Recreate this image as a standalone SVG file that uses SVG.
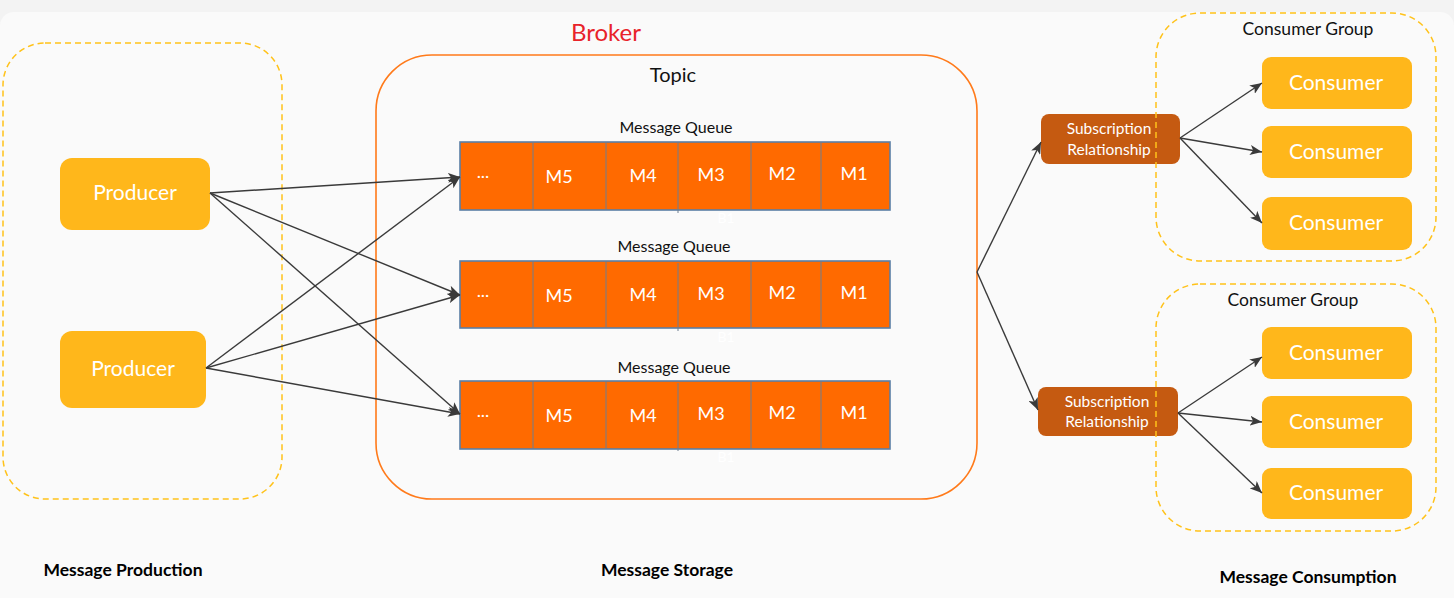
<svg xmlns="http://www.w3.org/2000/svg" width="1454" height="598" viewBox="0 0 1454 598">
<defs>
<marker id="arr" viewBox="0 0 12 10" refX="12" refY="5" markerWidth="12" markerHeight="10" markerUnits="userSpaceOnUse" orient="auto">
<path d="M0,0 L12,5 L0,10 L3,5 Z" fill="#3a3a3a"/>
</marker>
<style>
text{font-family:Lato,"Open Sans","Liberation Sans",sans-serif;}
.grp{fill:none;stroke:#ffc21a;stroke-width:1.5;stroke-dasharray:6 4;}
.yel{fill:#ffb71b;}
.wt{fill:#ffffff;text-anchor:middle;}
.big{font-size:21px;}
.q{fill:#ff6a00;stroke:#5b7fa6;stroke-width:1.6;}
.div{stroke:#6f7f90;stroke-width:1;}
.m{fill:#ffffff;font-size:18px;text-anchor:middle;}
.lbl{fill:#111;text-anchor:middle;font-size:16px;}
.sub{fill:#c55a11;}
.st{fill:#ffffff;font-size:15.5px;text-anchor:middle;}
.bot{fill:#000;font-size:17.5px;font-weight:bold;text-anchor:middle;}
.cg{fill:#111;font-size:17.5px;text-anchor:middle;}
.cn line{stroke:#3a3a3a;stroke-width:1.4;marker-end:url(#arr);}
</style>
</defs>
<rect x="0" y="0" width="1454" height="598" fill="#f3f3f3"/>
<rect x="0" y="12" width="1454" height="600" rx="14" fill="#fafafa"/>

<g id="production">
<rect class="grp" x="3" y="43" width="279" height="456" rx="42"/>
<text class="bot" x="123" y="576">Message Production</text>
</g>
<g id="producer1">
<rect class="yel" x="60" y="158" width="150" height="72" rx="12"/>
<text class="wt big" x="135" y="200">Producer</text>
</g>
<g id="producer2">
<rect class="yel" x="60" y="331" width="146" height="77" rx="12"/>
<text class="wt big" x="133" y="376">Producer</text>
</g>

<g id="broker">
<rect x="376" y="55" width="601" height="444" rx="56" fill="none" stroke="#ff7a1a" stroke-width="1.6"/>
<text x="606" y="41" fill="#e8232a" font-size="24" text-anchor="middle">Broker</text>
<text x="673" y="82" fill="#111" font-size="20" text-anchor="middle">Topic</text>
<text class="bot" x="667" y="576">Message Storage</text>
</g>

<g id="queue1">
<text class="lbl" x="676" y="133">Message Queue</text>
<rect class="q" x="460" y="142" width="430" height="68"/>
<line class="div" x1="533" y1="142" x2="533" y2="210"/><line class="div" x1="606" y1="142" x2="606" y2="210"/><line class="div" x1="678" y1="142" x2="678" y2="213"/><line class="div" x1="751" y1="142" x2="751" y2="210"/><line class="div" x1="821" y1="142" x2="821" y2="210"/>
<text class="m" x="483" y="178" font-size="12">...</text><text class="m" x="559" y="183">M5</text><text class="m" x="643" y="182">M4</text><text class="m" x="711" y="181">M3</text><text class="m" x="782" y="180">M2</text><text class="m" x="854" y="180">M1</text>
<text x="726" y="223" fill="#ffffff" font-size="14" text-anchor="middle">B1</text>
</g>
<g id="queue2">
<text class="lbl" x="674" y="252">Message Queue</text>
<rect class="q" x="460" y="261" width="430" height="67"/>
<line class="div" x1="533" y1="261" x2="533" y2="328"/><line class="div" x1="606" y1="261" x2="606" y2="328"/><line class="div" x1="678" y1="263" x2="678" y2="331"/><line class="div" x1="751" y1="261" x2="751" y2="328"/><line class="div" x1="821" y1="261" x2="821" y2="328"/>
<text class="m" x="483" y="297" font-size="12">...</text><text class="m" x="559" y="302">M5</text><text class="m" x="643" y="301">M4</text><text class="m" x="711" y="300">M3</text><text class="m" x="782" y="299">M2</text><text class="m" x="854" y="299">M1</text>
<text x="726" y="342" fill="#ffffff" font-size="14" text-anchor="middle">B1</text>
</g>
<g id="queue3">
<text class="lbl" x="674" y="373">Message Queue</text>
<rect class="q" x="460" y="381" width="430" height="68"/>
<line class="div" x1="533" y1="381" x2="533" y2="449"/><line class="div" x1="606" y1="381" x2="606" y2="449"/><line class="div" x1="678" y1="383" x2="678" y2="451"/><line class="div" x1="751" y1="381" x2="751" y2="449"/><line class="div" x1="821" y1="381" x2="821" y2="449"/>
<text class="m" x="483" y="417" font-size="12">...</text><text class="m" x="559" y="422">M5</text><text class="m" x="643" y="422">M4</text><text class="m" x="711" y="420">M3</text><text class="m" x="782" y="419">M2</text><text class="m" x="854" y="419">M1</text>
<text x="726" y="462" fill="#ffffff" font-size="14" text-anchor="middle">B1</text>
</g>

<g id="sub1">
<rect class="sub" x="1041" y="114" width="139" height="50" rx="8"/>
<text class="st" x="1109" y="134">Subscription</text>
<text class="st" x="1109" y="155">Relationship</text>
</g>
<g id="sub2">
<rect class="sub" x="1038" y="387" width="140" height="49" rx="8"/>
<text class="st" x="1107" y="407">Subscription</text>
<text class="st" x="1107" y="427">Relationship</text>
</g>

<g id="group1">
<rect class="grp" x="1156" y="13" width="280" height="248" rx="44"/>
<text class="cg" x="1308" y="35">Consumer Group</text>
</g>
<g id="consumer1"><rect class="yel" x="1262" y="57" width="150" height="52" rx="9"/><text class="wt big" x="1336" y="90">Consumer</text></g>
<g id="consumer2"><rect class="yel" x="1262" y="126" width="150" height="52" rx="9"/><text class="wt big" x="1336" y="159">Consumer</text></g>
<g id="consumer3"><rect class="yel" x="1262" y="197" width="150" height="53" rx="9"/><text class="wt big" x="1336" y="230">Consumer</text></g>

<g id="group2">
<rect class="grp" x="1156" y="284" width="280" height="247" rx="44"/>
<text class="cg" x="1293" y="306">Consumer Group</text>
<text class="bot" x="1308" y="583">Message Consumption</text>
</g>
<g id="consumer4"><rect class="yel" x="1262" y="327" width="150" height="52" rx="9"/><text class="wt big" x="1336" y="360">Consumer</text></g>
<g id="consumer5"><rect class="yel" x="1262" y="396" width="150" height="52" rx="9"/><text class="wt big" x="1336" y="429">Consumer</text></g>
<g id="consumer6"><rect class="yel" x="1262" y="468" width="150" height="51" rx="9"/><text class="wt big" x="1336" y="500">Consumer</text></g>

<g id="connectors" class="cn">
<line x1="210" y1="193" x2="460" y2="177"/>
<line x1="210" y1="193" x2="460" y2="295"/>
<line x1="210" y1="193" x2="460" y2="414"/>
<line x1="206" y1="368" x2="460" y2="177"/>
<line x1="206" y1="368" x2="460" y2="295"/>
<line x1="206" y1="368" x2="460" y2="414"/>
<line x1="977" y1="272" x2="1041" y2="142"/>
<line x1="977" y1="272" x2="1038" y2="410"/>
<line x1="1180" y1="138" x2="1262" y2="83"/>
<line x1="1180" y1="138" x2="1262" y2="152"/>
<line x1="1180" y1="138" x2="1262" y2="223"/>
<line x1="1178" y1="413" x2="1262" y2="357"/>
<line x1="1178" y1="413" x2="1262" y2="422"/>
<line x1="1178" y1="413" x2="1262" y2="493"/>
</g>
</svg>
